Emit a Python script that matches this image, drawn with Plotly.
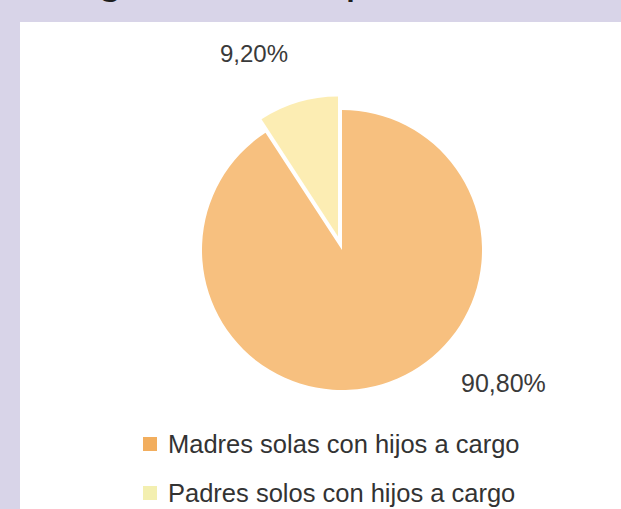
import plotly.graph_objects as go

# Data
labels = ["Madres solas con hijos a cargo", "Padres solos con hijos a cargo"]
values = [90.8, 9.2]
colors = ["#F7C07F", "#FCEDB3"]
title_text = "Hogares monoparentales"

W, H = 621, 509
FONT = "Liberation Sans, Arial, sans-serif"


def px_x(x):
    return x / W


def px_y(y):
    return 1 - y / H


def pct(v):
    return f"{v:.2f}%".replace(".", ",")


fig = go.Figure()

fig.add_trace(go.Pie(
    labels=labels,
    values=values,
    marker=dict(colors=colors, line=dict(color="white", width=0)),
    sort=False,
    direction="clockwise",
    rotation=0,
    pull=[0, 0.1],
    textinfo="none",
    hoverinfo="label+percent",
    showlegend=False,
    domain=dict(x=[px_x(342 - 154), px_x(342 + 154)],
                y=[px_y(250 + 154), px_y(250 - 154)]),
))

shapes = [
    # white content panel on the lavender slide
    dict(type="rect", xref="paper", yref="paper", layer="below",
         x0=px_x(20), x1=1.02, y0=-0.02, y1=px_y(22),
         fillcolor="white", line=dict(width=0)),
]

annotations = [
    dict(text=title_text, xref="paper", yref="paper", x=px_x(301), y=px_y(4),
         xanchor="center", yanchor="bottom", showarrow=False,
         font=dict(family=FONT, size=47, color="#1e1e1e")),
    dict(text=pct(values[1]), xref="paper", yref="paper", x=px_x(254), y=px_y(53),
         xanchor="center", yanchor="middle", showarrow=False,
         font=dict(family=FONT, size=24, color="#3a3a3a")),
    dict(text=pct(values[0]), xref="paper", yref="paper", x=px_x(503), y=px_y(383),
         xanchor="center", yanchor="middle", showarrow=False,
         font=dict(family=FONT, size=25, color="#3a3a3a")),
]

# legend entries drawn below the pie
legend_rows = [444, 493]
for lab, col, yc in zip(labels, ["#F2AE5E", "#F3EFB0"], legend_rows):
    shapes.append(dict(type="rect", xref="paper", yref="paper",
                       x0=px_x(143), x1=px_x(157), y0=px_y(yc + 7), y1=px_y(yc - 7),
                       fillcolor=col, line=dict(width=0)))
    annotations.append(dict(text=lab, xref="paper", yref="paper",
                            x=px_x(166), y=px_y(yc), xanchor="left", yanchor="middle",
                            showarrow=False,
                            font=dict(family=FONT, size=25.5, color="#333333")))

fig.update_layout(
    width=W, height=H,
    margin=dict(l=0, r=0, t=0, b=0),
    paper_bgcolor="#D8D4E8",
    plot_bgcolor="#D8D4E8",
    shapes=shapes,
    annotations=annotations,
    separators=",.",
)

fig.write_html("out.html")
